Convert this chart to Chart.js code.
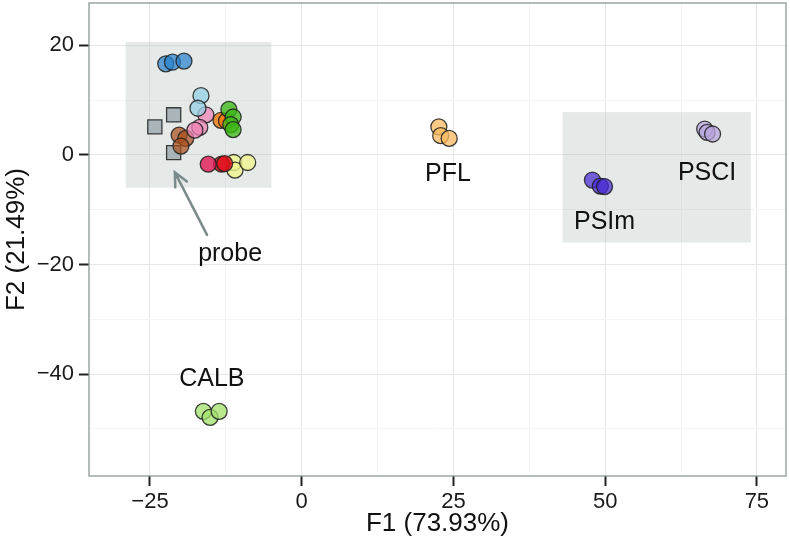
<!DOCTYPE html>
<html>
<head>
<meta charset="utf-8">
<script src="https://cdn.jsdelivr.net/npm/chart.js@4"></script>
<style>
  body { margin: 0; background: #fff; }
  #wrap { width: 790px; height: 548px; }
</style>
</head>
<body>
<div id="wrap"><canvas id="pcaChart"></canvas></div>
<script>
// F1 / F2 scores
const probeF1 = [-21.1, -24.2, -21.1];
const probeF2 = [7.3, 5.1, 0.4];
const blueF1 = [-22.4, -21.3, -19.4];
const blueF2 = [16.6, 16.9, 17.1];
const lightBlueF1 = [-16.6, -17.1];
const lightBlueF2 = [10.8, 8.5];
const pinkF1 = [-15.8, -16.8, -17.6];
const pinkF2 = [7.3, 5.0, 4.5];
const brownF1 = [-20.2, -19.1, -19.9];
const brownF2 = [3.6, 3.0, 1.6];
const orangeF1 = [-13.3, -12.4];
const orangeF2 = [6.3, 6.2];
const greenF1 = [-12.0, -11.3, -11.7, -11.3];
const greenF2 = [8.3, 6.9, 5.5, 4.6];
const crimsonF1 = [-15.4];
const crimsonF2 = [-1.7];
const redF1 = [-13.2, -12.7];
const redF2 = [-1.7, -1.6];
const yellowF1 = [-11.2, -11.0, -8.9];
const yellowF2 = [-1.4, -2.8, -1.4];
const pflF1 = [22.6, 22.9, 24.3];
const pflF2 = [5.1, 3.5, 3.0];
const psciF1 = [66.4, 66.8, 67.7];
const psciF2 = [4.7, 4.1, 3.8];
const psimF1 = [47.9, 49.2, 49.9];
const psimF2 = [-4.6, -5.7, -5.8];
const calbF1 = [-16.2, -15.1, -13.6];
const calbF2 = [-46.8, -47.9, -46.8];

// axis ticks (multiples of 25 / 20 are labelled, the rest are minor grid)
const xTickValues = [-25, -12.5, 0, 12.5, 25, 37.5, 50, 62.5, 75];
const yTickValues = [-50, -40, -30, -20, -10, 0, 10, 20];

// shaded boxes
const boxF1Min = [-29, 43];
const boxF1Max = [-5, 74];
const boxF2Min = [-6, -16];
const boxF2Max = [20.6, 7.8];

// text labels
const labelText = ['PFL', 'PSCI', 'PSIm', 'CALB', 'probe'];
const labelF1 = [24.1, 66.8, 49.9, -14.8, -11.8];
const labelF2 = [-3.6, -3.3, -12.2, -40.9, -18.2];
// arrow from "probe" to the squares
const arrowF1 = [-15.6, -20.9];
const arrowF2 = [-14.6, -3.2];

const FONT = '"Liberation Sans", Arial, sans-serif';
const toPoints = (xs, ys) => xs.map((x, i) => ({ x: x, y: ys[i] }));

function series(label, xs, ys, color, style) {
  return {
    label: label,
    data: toPoints(xs, ys),
    backgroundColor: color,
    borderColor: 'rgba(30,30,30,0.85)',
    borderWidth: 1.3,
    pointStyle: style || 'circle',
    pointRadius: style === 'rect' ? 10 : 8,
    pointHoverRadius: style === 'rect' ? 10 : 8
  };
}

const datasets = [
  series('blue', blueF1, blueF2, 'rgba(40,130,205,0.72)'),
  series('lightblue', lightBlueF1, lightBlueF2, 'rgba(150,210,230,0.75)'),
  series('pink', pinkF1, pinkF2, 'rgba(240,130,180,0.72)'),
  series('brown', brownF1, brownF2, 'rgba(170,80,30,0.72)'),
  series('green', greenF1, greenF2, 'rgba(60,185,20,0.78)'),
  series('orange', orangeF1, orangeF2, 'rgba(240,120,10,0.8)'),
  series('crimson', crimsonF1, crimsonF2, 'rgba(225,25,85,0.8)'),
  series('red', redF1, redF2, 'rgba(225,15,25,0.8)'),
  series('yellow', yellowF1, yellowF2, 'rgba(240,245,140,0.78)'),
  series('probe', probeF1, probeF2, 'rgba(160,172,176,0.85)', 'rect'),
  series('PFL', pflF1, pflF2, 'rgba(250,185,95,0.75)'),
  series('PSCI', psciF1, psciF2, 'rgba(185,165,220,0.72)'),
  series('PSIm', psimF1, psimF2, 'rgba(70,40,210,0.72)'),
  series('CALB', calbF1, calbF2, 'rgba(160,225,105,0.75)')
];

const decor = {
  id: 'decor',
  beforeDatasetsDraw(chart) {
    const { ctx, scales: { x, y } } = chart;
    ctx.save();
    ctx.fillStyle = 'rgba(175,192,188,0.33)';
    for (let i = 0; i < boxF1Min.length; i++) {
      const l = x.getPixelForValue(boxF1Min[i]);
      const r = x.getPixelForValue(boxF1Max[i]);
      const t = y.getPixelForValue(boxF2Max[i]);
      const b = y.getPixelForValue(boxF2Min[i]);
      ctx.fillRect(l, t, r - l, b - t);
    }
    ctx.restore();
  },
  afterDatasetsDraw(chart) {
    const { ctx, chartArea: a, scales: { x, y } } = chart;
    ctx.save();
    // panel border
    ctx.strokeStyle = '#8c9898';
    ctx.lineWidth = 1.3;
    ctx.strokeRect(a.left, a.top, a.right - a.left, a.bottom - a.top);

    // labels
    ctx.fillStyle = '#111';
    ctx.font = '25px ' + FONT;
    ctx.textAlign = 'center';
    ctx.textBaseline = 'middle';
    labelText.forEach((t, i) => {
      ctx.fillText(t, x.getPixelForValue(labelF1[i]), y.getPixelForValue(labelF2[i]));
    });

    // arrow
    const x0 = x.getPixelForValue(arrowF1[0]), y0 = y.getPixelForValue(arrowF2[0]);
    const x1 = x.getPixelForValue(arrowF1[1]), y1 = y.getPixelForValue(arrowF2[1]);
    const ang = Math.atan2(y1 - y0, x1 - x0);
    ctx.strokeStyle = '#7b8a8a';
    ctx.lineWidth = 2.5;
    ctx.lineCap = 'round';
    ctx.beginPath();
    ctx.moveTo(x0, y0);
    ctx.lineTo(x1, y1);
    ctx.moveTo(x1 - 15 * Math.cos(ang - 0.45), y1 - 15 * Math.sin(ang - 0.45));
    ctx.lineTo(x1, y1);
    ctx.lineTo(x1 - 15 * Math.cos(ang + 0.45), y1 - 15 * Math.sin(ang + 0.45));
    ctx.stroke();
    ctx.restore();
  }
};

const fmt = v => (v < 0 ? '\u2212' + Math.abs(v) : String(v));

new Chart(document.getElementById('pcaChart'), {
  type: 'scatter',
  data: { datasets: datasets },
  options: {
    responsive: true,
    maintainAspectRatio: false,
    animation: false,
    layout: { autoPadding: false, padding: { top: 3, right: 4, bottom: 0, left: 0 } },
    plugins: { legend: { display: false }, tooltip: { enabled: false } },
    scales: {
      x: {
        type: 'linear',
        min: -35.05,
        max: 79.8,
        afterBuildTicks: axis => { axis.ticks = xTickValues.map(v => ({ value: v })); },
        afterFit: scale => {
          scale.height = 72;
          scale.paddingLeft = 0;
          scale.paddingRight = 0;
        },
        border: { display: false },
        grid: {
          color: c => (c.tick && c.tick.value % 25 === 0 ? '#e6e6e6' : '#f4f4f4'),
          lineWidth: 1,
          tickLength: 10,
          tickWidth: 2,
          tickColor: c => (c.tick && c.tick.value % 25 === 0 ? '#222' : 'rgba(0,0,0,0)')
        },
        ticks: {
          autoSkip: false,
          maxRotation: 0,
          padding: 3,
          color: '#1a1a1a',
          font: { family: FONT, size: 22 },
          callback: v => (v % 25 === 0 ? fmt(v) : '')
        },
        title: {
          display: true,
          text: 'F1 (73.93%)',
          color: '#111',
          padding: { top: 9, bottom: 9 },
          font: { family: FONT, size: 26 }
        }
      },
      y: {
        type: 'linear',
        min: -58.6,
        max: 27.7,
        afterBuildTicks: axis => { axis.ticks = yTickValues.map(v => ({ value: v })); },
        afterFit: scale => {
          scale.width = 89;
          scale.paddingTop = 0;
          scale.paddingBottom = 0;
        },
        border: { display: false },
        grid: {
          color: c => (c.tick && c.tick.value % 20 === 0 ? '#e6e6e6' : '#f4f4f4'),
          lineWidth: 1,
          tickLength: 10,
          tickWidth: 2,
          tickColor: c => (c.tick && c.tick.value % 20 === 0 ? '#222' : 'rgba(0,0,0,0)')
        },
        ticks: {
          autoSkip: false,
          padding: 5,
          color: '#1a1a1a',
          font: { family: FONT, size: 22 },
          callback: v => (v % 20 === 0 ? fmt(v) : '')
        },
        title: {
          display: true,
          text: 'F2 (21.49%)',
          color: '#111',
          padding: { top: 1, bottom: 1 },
          font: { family: FONT, size: 26 }
        }
      }
    }
  },
  plugins: [decor]
});
</script>
</body>
</html>
